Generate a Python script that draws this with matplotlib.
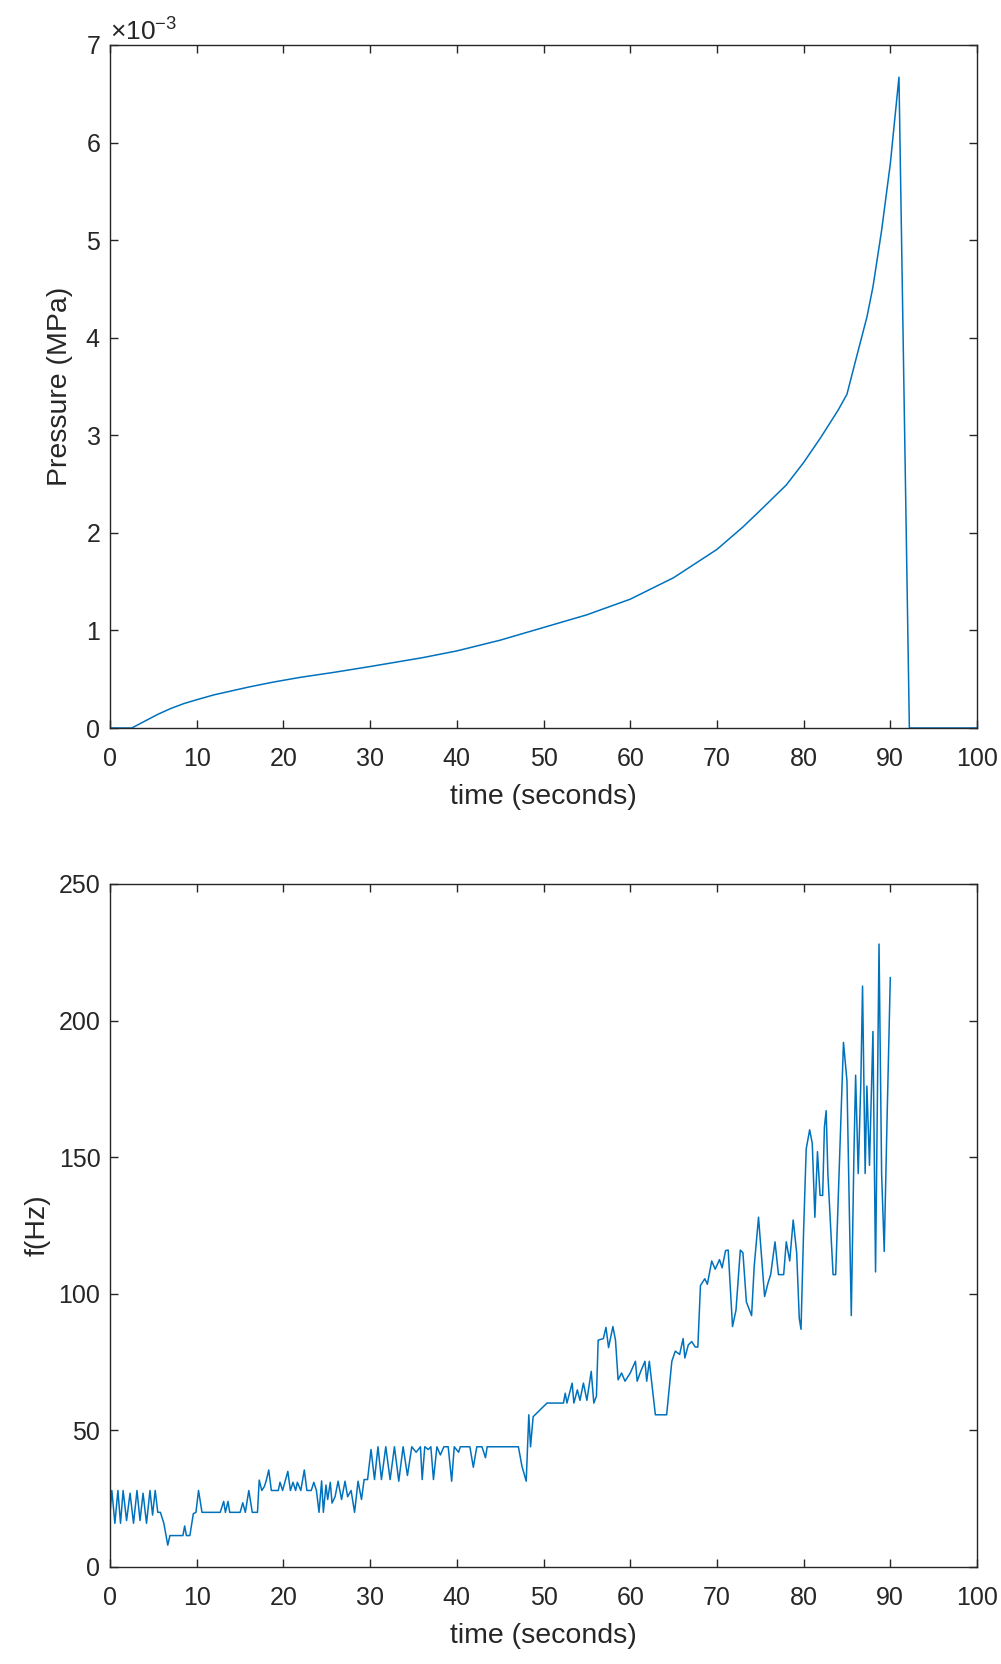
import numpy as np
import matplotlib
matplotlib.use("Agg")
import matplotlib.pyplot as plt
from matplotlib.ticker import ScalarFormatter

plt.rcParams['font.family'] = ['Liberation Sans', 'DejaVu Sans']
plt.rcParams['axes.unicode_minus'] = False
plt.rcParams['mathtext.fontset'] = 'custom'
plt.rcParams['mathtext.rm'] = 'Liberation Sans'

# pressure trace (MPa)
t_p = [0, 0.8, 2.5, 4, 5.5, 7, 8.5, 10, 12, 13.5, 16, 18.8, 22, 25.8, 30, 33,
       36, 40, 45, 50, 55, 60, 65, 70, 73, 75, 78, 80, 82, 83, 84, 85, 86.1,
       87.3, 88, 89, 90, 91, 92.2, 100]
p_mpa = [0, 0, 0, 0.07e-3, 0.14e-3, 0.20e-3, 0.25e-3, 0.29e-3, 0.34e-3,
         0.37e-3, 0.42e-3, 0.47e-3, 0.52e-3, 0.57e-3, 0.63e-3, 0.675e-3,
         0.72e-3, 0.79e-3, 0.90e-3, 1.03e-3, 1.16e-3, 1.32e-3, 1.54e-3,
         1.83e-3, 2.06e-3, 2.23e-3, 2.49e-3, 2.72e-3, 2.98e-3, 3.12e-3,
         3.26e-3, 3.42e-3, 3.80e-3, 4.21e-3, 4.52e-3, 5.10e-3, 5.78e-3,
         6.67e-3, 0, 0]

# dominant frequency (Hz)
t_f = [0, 0.2, 0.55, 0.9, 1.2, 1.5, 1.9, 2.3, 2.7, 3.1, 3.45, 3.8, 4.2, 4.6,
       4.9, 5.2, 5.5, 5.8, 6.2, 6.65, 6.9, 8.4, 8.6, 8.8, 9.2, 9.6, 9.9, 10.2,
       10.6, 12.7, 13.1, 13.3, 13.6, 13.8, 15.0, 15.3, 15.6, 16.0, 16.4, 17.0,
       17.2, 17.5, 17.8, 18.0, 18.3, 18.6, 19.4, 19.6, 19.9, 20.5, 20.8, 21.1,
       21.4, 21.6, 22.0, 22.4, 22.7, 23.2, 23.5, 23.8, 24.1, 24.4, 24.6, 24.9,
       25.1, 25.4, 25.6, 25.95, 26.3, 26.7, 27.1, 27.4, 27.8, 28.2, 28.6, 29.0,
       29.3, 29.7, 30.1, 30.5, 30.9, 31.3, 31.8, 32.3, 32.8, 33.3, 33.8, 34.3,
       34.8, 35.3, 35.8, 36.0, 36.3, 36.7, 37.0, 37.3, 37.7, 38.1, 38.5, 39.0,
       39.4, 39.7, 40.2, 40.4, 41.5, 41.9, 42.3, 42.9, 43.3, 43.5, 47.1, 47.5,
       48.0, 48.3, 48.5, 48.8, 49.6, 50.0, 50.4, 52.3, 52.5, 52.7, 53.3, 53.5,
       53.9, 54.2, 54.6, 55.0, 55.5, 55.8, 56.1, 56.3, 56.9, 57.2, 57.5, 58.0,
       58.3, 58.6, 59.0, 59.4, 60.0, 60.6, 60.8, 61.2, 61.7, 61.9, 62.2, 62.9,
       64.2, 64.8, 65.2, 65.7, 66.1, 66.3, 66.7, 67.1, 67.5, 67.8, 68.1, 68.6,
       68.9, 69.4, 69.8, 70.3, 70.6, 71.0, 71.3, 71.8, 72.2, 72.7, 73.0, 73.4,
       74.0, 74.3, 74.8, 75.5, 75.9, 76.2, 76.7, 77.1, 77.7, 78.0, 78.4, 78.8,
       79.2, 79.5, 79.7, 80.0, 80.3, 80.7, 81.0, 81.3, 81.6, 81.9, 82.2, 82.4,
       82.6, 82.8, 83.4, 83.7, 84.6, 85.0, 85.2, 85.5, 85.8, 86.0, 86.3, 86.6,
       86.8, 87.1, 87.3, 87.6, 88.0, 88.3, 88.7, 89.0, 89.3, 89.6, 90.0]
f_hz = [20, 28, 16, 28, 16, 28, 17, 27, 16, 28, 17, 27, 16, 28, 19, 28, 20,
        20, 16, 8, 11.5, 11.5, 15, 11.5, 11.5, 19.5, 20, 28, 20, 20, 24, 20,
        24, 20, 20, 23.5, 20, 28, 20, 20, 31.8, 28, 29.5, 31.5, 35.5, 28, 28,
        31, 28, 35, 28, 31, 28, 31, 28, 35.5, 28, 28, 31, 28, 20, 31.5, 20, 30,
        24.7, 31, 23.4, 25.7, 31.4, 24.7, 31.4, 25.7, 28, 20, 31.4, 24.7, 32,
        32, 43, 32, 44, 32, 44, 32, 44, 31.4, 44, 33.5, 44, 42, 44, 32, 44, 43,
        44, 32, 44, 41, 44, 44, 31.4, 44, 42, 44, 44, 36.5, 44, 44, 40, 44, 44,
        37, 31.4, 55.7, 44, 55, 57.5, 58.8, 60, 60, 63.6, 60, 67.3, 60, 64.8,
        61, 67.3, 61, 71.6, 60, 62.5, 83, 83.6, 87.7, 80.3, 88, 83, 68.5, 71,
        68, 71, 75.3, 68, 71.5, 75.3, 68, 75.3, 55.7, 55.7, 75.3, 79, 77.8,
        83.6, 76.5, 81.3, 82.5, 80.5, 80.5, 103, 105.5, 103.5, 112, 109, 112.5,
        109.5, 115.8, 116, 88, 94, 116, 115, 97, 92, 110, 128, 99, 104, 107,
        119, 107, 107, 119, 112, 127, 115, 91, 87, 123, 153, 160, 155, 128, 152,
        136, 136, 161, 167, 144, 107, 107, 192, 178, 144, 92, 150, 180, 144,
        177, 212.6, 144, 176, 147, 196, 108, 228, 144, 115.5, 160, 215.7]

line_color = '#0072BD'
ax_color = '#262626'

fig = plt.figure(figsize=(10.01, 16.64), dpi=100)
ax1 = fig.add_axes([0.11, 0.5625, 0.866, 0.4105])
ax2 = fig.add_axes([0.11, 0.0583, 0.866, 0.4105])

ax1.plot(t_p, p_mpa, color=line_color, linewidth=1.1)
ax2.plot(t_f, f_hz, color=line_color, linewidth=1.1)

ax1.set_xlim(0, 100)
ax1.set_ylim(0, 7e-3)
ax1.set_xticks(np.arange(0, 101, 10))
ax1.set_yticks(np.arange(0, 7.1e-3, 1e-3))
fmt = ScalarFormatter(useMathText=True)
fmt.set_powerlimits((-2, 2))
ax1.yaxis.set_major_formatter(fmt)
ax1.set_xlabel('time (seconds)', fontsize=20.5, color=ax_color, labelpad=9)
ax1.set_ylabel('Pressure (MPa)', fontsize=20.5, color=ax_color, labelpad=9)

ax2.set_xlim(0, 100)
ax2.set_ylim(0, 250)
ax2.set_xticks(np.arange(0, 101, 10))
ax2.set_yticks(np.arange(0, 251, 50))
ax2.set_xlabel('time (seconds)', fontsize=20.5, color=ax_color, labelpad=9)
ax2.set_ylabel('f(Hz)', fontsize=20.5, color=ax_color, labelpad=6)

for ax in (ax1, ax2):
    ax.tick_params(direction='in', length=6, width=1, colors=ax_color,
                   labelsize=18, top=True, right=True)
    ax.tick_params(axis='x', pad=14)
    ax.tick_params(axis='y', pad=7)
    for s in ax.spines.values():
        s.set_color(ax_color)
        s.set_linewidth(1)
ax1.yaxis.get_offset_text().set_fontsize(19)
ax1.yaxis.get_offset_text().set_color(ax_color)

fig.savefig('out.png', dpi=100)
